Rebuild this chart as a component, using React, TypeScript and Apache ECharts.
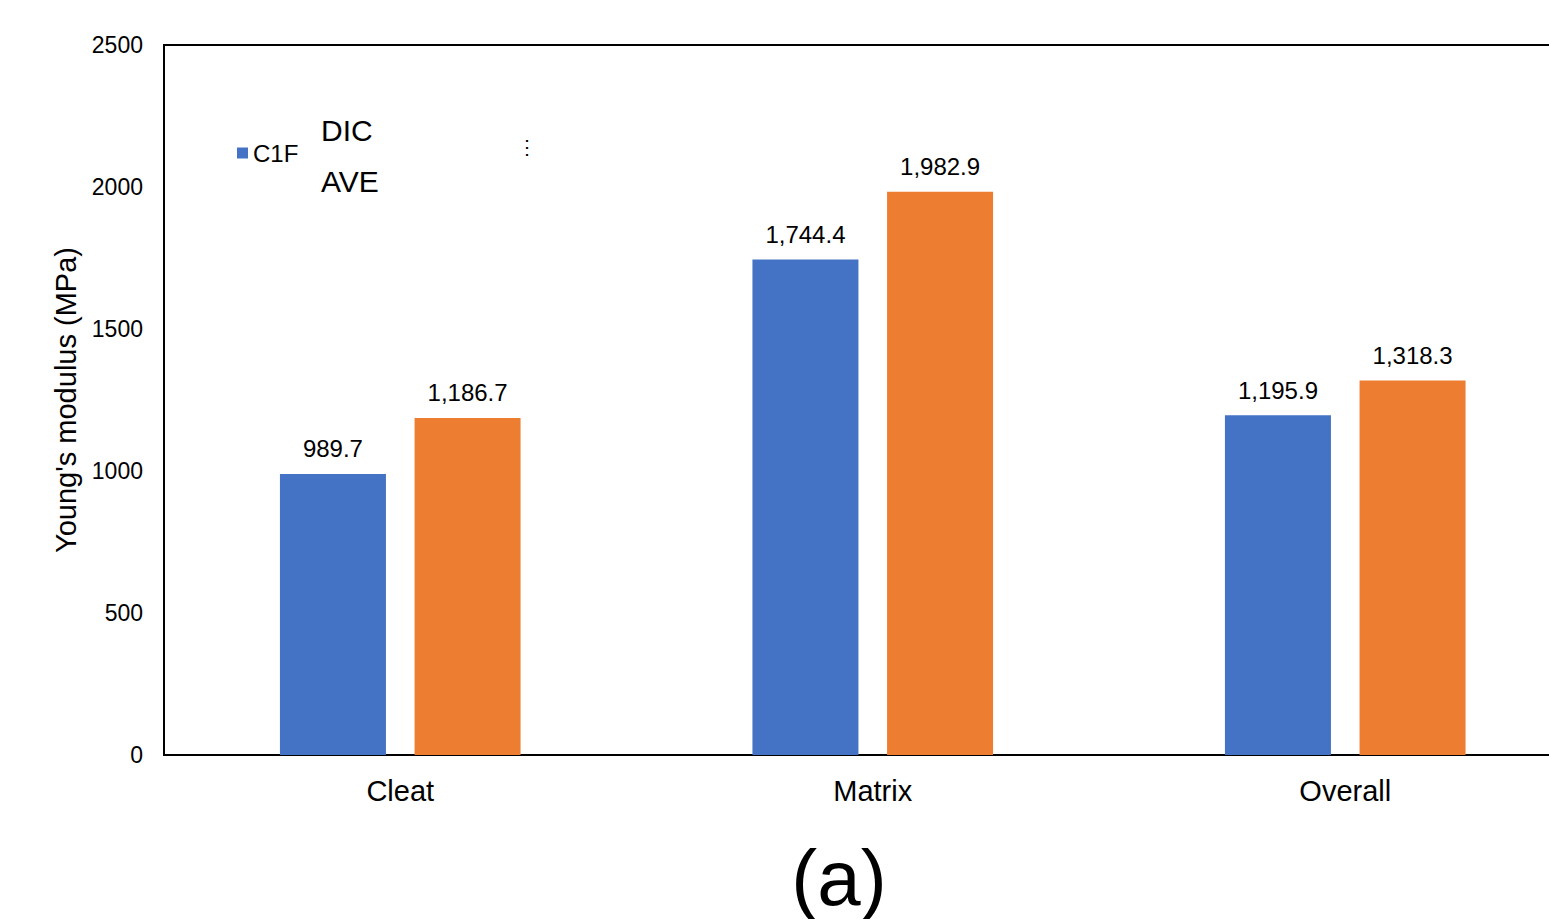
import React, { useEffect, useRef } from "react";
import * as echarts from "echarts";

const categories = ["Cleat", "Matrix", "Overall"];
const dicValues = [989.7, 1744.4, 1195.9];
const aveValues = [1186.7, 1982.9, 1318.3];
const yTicks = { min: 0, max: 2500, interval: 500 };

const fmt = (v: number) =>
  v.toLocaleString("en-US", { minimumFractionDigits: 1, maximumFractionDigits: 1 });

export default function App() {
  const ref = useRef<HTMLDivElement>(null);
  useEffect(() => {
    document.body.style.margin = "0";
    const chart = echarts.init(ref.current!, null, { renderer: "svg" });
    const font = "Liberation Sans, Arial, sans-serif";
    const barLabel = {
      show: true,
      position: "top",
      distance: 13,
      fontSize: 24,
      color: "#000",
      fontFamily: font,
      formatter: (p: any) => fmt(p.value),
    };
    chart.setOption({
      animation: false,
      textStyle: { fontFamily: font, color: "#000" },
      grid: {
        left: 164,
        top: 45,
        width: 1417.5,
        height: 710,
        show: true,
        borderColor: "#000",
        borderWidth: 2,
        backgroundColor: "transparent",
      },
      legend: {
        data: ["C1F"],
        left: 232,
        top: 136,
        itemWidth: 11,
        itemHeight: 11,
        itemGap: 4,
        icon: "rect",
        textStyle: { fontSize: 24, color: "#000", fontFamily: font },
      },
      xAxis: {
        type: "category",
        data: categories,
        axisLine: { show: false },
        axisTick: { show: false },
        axisLabel: { fontSize: 29, color: "#000", margin: 21, fontFamily: font },
      },
      yAxis: {
        type: "value",
        min: yTicks.min,
        max: yTicks.max,
        interval: yTicks.interval,
        splitLine: { show: false },
        axisLine: { show: false },
        axisTick: { show: false },
        axisLabel: {
          fontSize: 23,
          color: "#000",
          margin: 21,
          fontFamily: font,
          formatter: (v: number) => String(v),
        },
        name: "Young's modulus (MPa)",
        nameLocation: "middle",
        nameRotate: 90,
        nameGap: 82,
        nameTextStyle: { fontSize: 29, color: "#000", fontFamily: font },
      },
      series: [
        {
          name: "C1F",
          type: "bar",
          data: dicValues,
          barWidth: 106,
          barGap: "27%",
          itemStyle: { color: "#4472C4" },
          label: barLabel,
        },
        {
          name: "C1F AVE",
          type: "bar",
          data: aveValues,
          barWidth: 106,
          itemStyle: { color: "#ED7D31" },
          label: barLabel,
        },
      ],
      graphic: [
        {
          type: "text",
          left: 321,
          top: 115,
          style: { text: "DIC", fontSize: 30, fill: "#000", fontFamily: font },
        },
        {
          type: "text",
          left: 321,
          top: 166,
          style: { text: "AVE", fontSize: 30, fill: "#000", fontFamily: font },
        },
        {
          type: "text",
          left: 517,
          top: 137,
          style: { text: "⋮", fontSize: 20, fill: "#000", fontFamily: font },
        },
        {
          type: "text",
          x: 839,
          y: 878,
          style: {
            text: "(a)",
            fontSize: 78,
            fill: "#000",
            fontFamily: font,
            align: "center",
            verticalAlign: "middle",
          },
        },
      ],
    });
    return () => chart.dispose();
  }, []);
  return (
    <div style={{ position: "absolute", left: 0, top: 0, width: 1549, height: 919, overflow: "hidden", background: "#fff" }}>
      <div ref={ref} style={{ width: 1600, height: 919 }} />
    </div>
  );
}
